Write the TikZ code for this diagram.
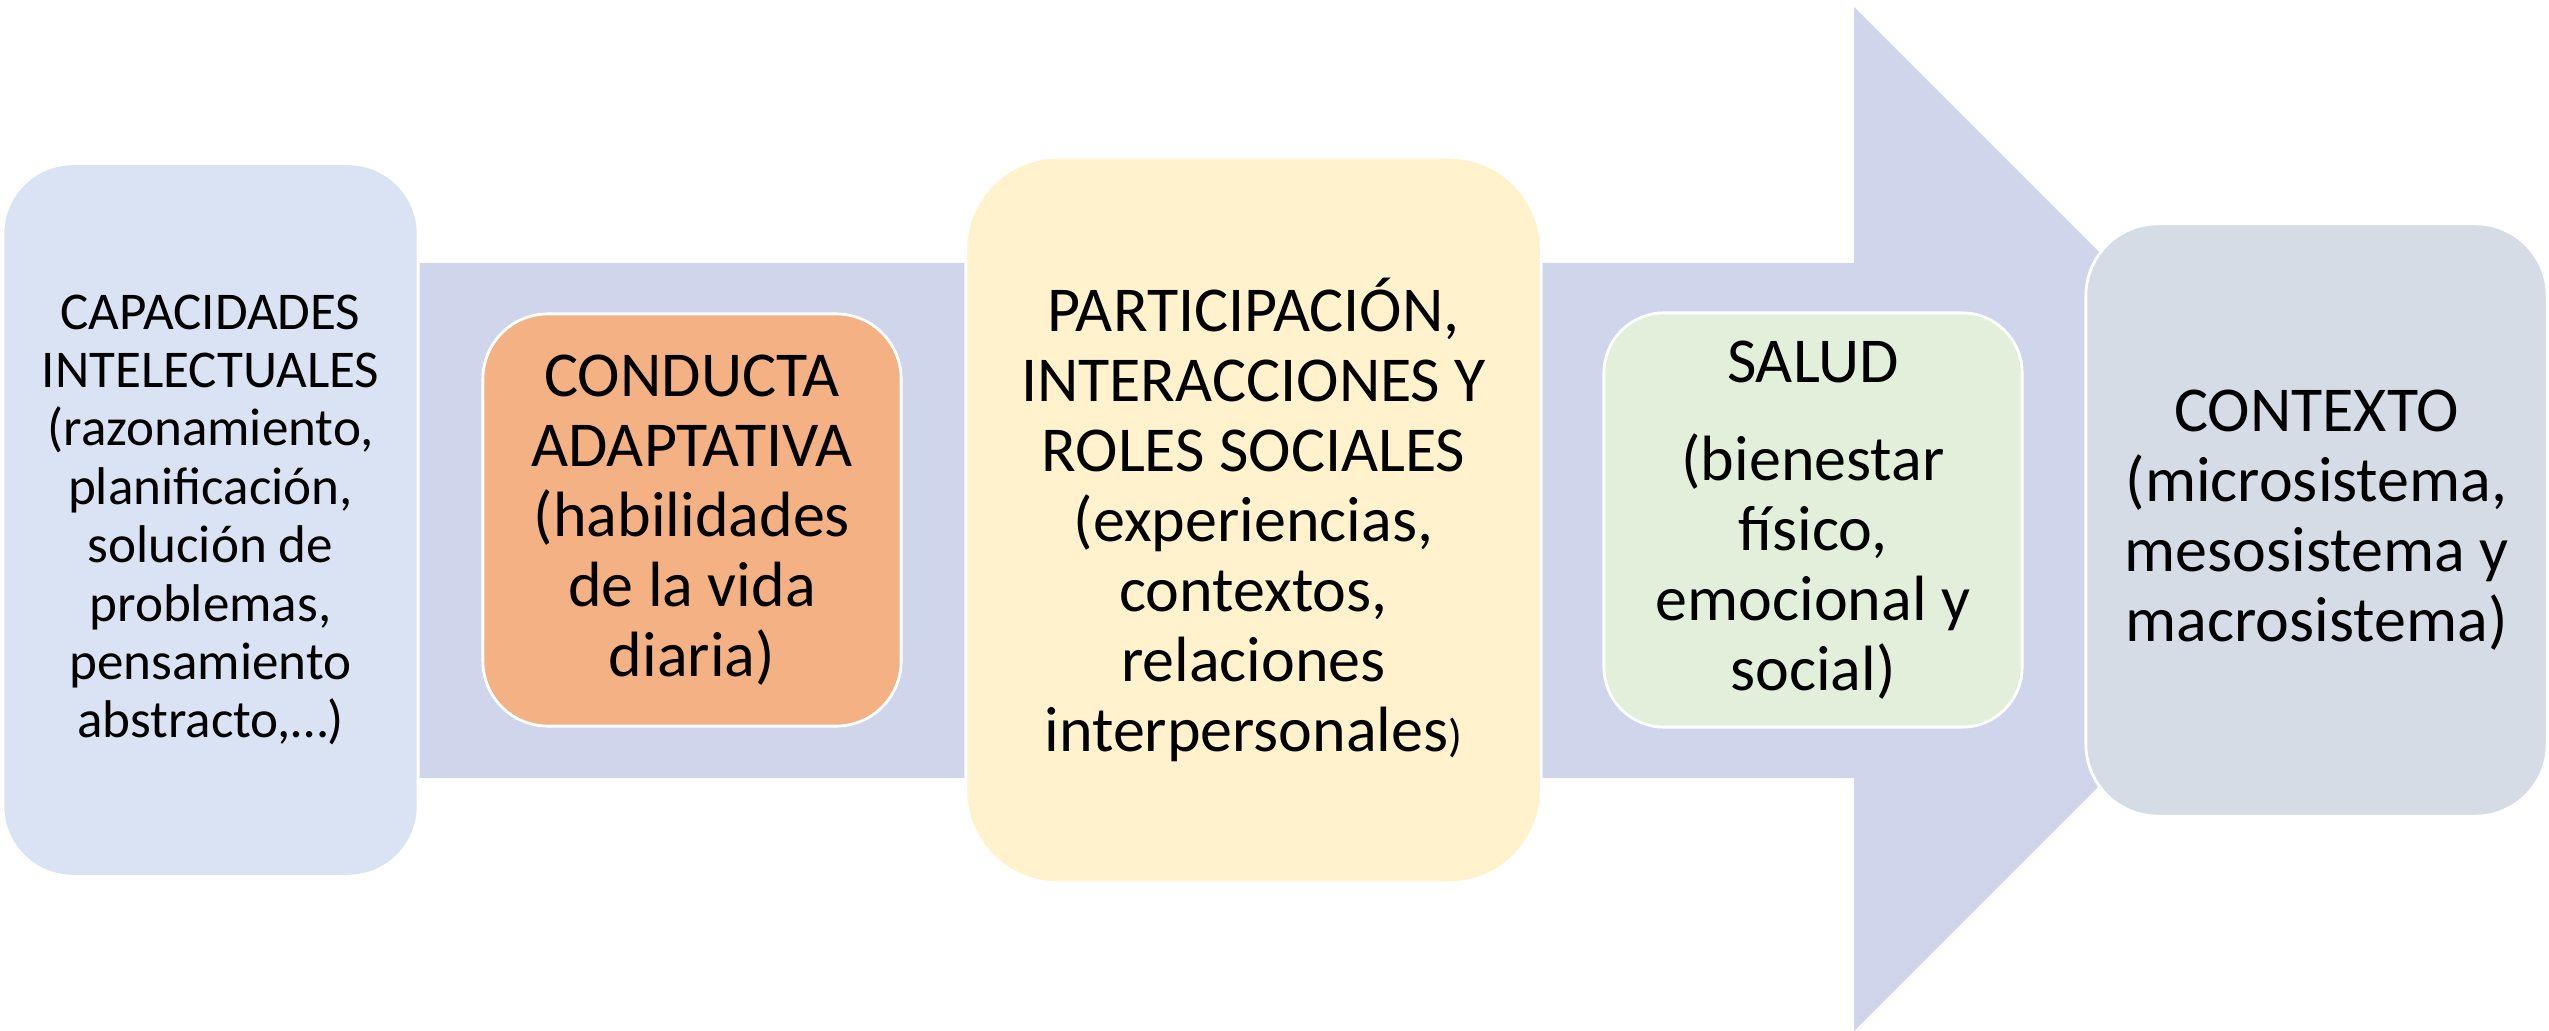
\documentclass[tikz,border=0pt]{standalone}
\usepackage{fontspec}
\setmainfont{Carlito}
\definecolor{arrowc}{HTML}{CFD5EA}
\definecolor{capc}{HTML}{DAE3F3}
\definecolor{condc}{HTML}{F4B183}
\definecolor{partc}{HTML}{FFF2CC}
\definecolor{saludc}{HTML}{E2EFDA}
\definecolor{contc}{HTML}{D6DCE5}
\begin{document}
\begin{tikzpicture}[x=0.01cm,y=-0.01cm,
  box/.style={draw=white, line width=0.8pt, align=center, inner sep=0pt, text=black},
  smalltxt/.style={font=\fontsize{15.1}{16.6}\selectfont},
  bigtxt/.style={font=\fontsize{18.2}{19.9}\selectfont}]
\useasboundingbox (0,0) rectangle (2549,1031);
\fill[arrowc] (300,263) -- (1854,263) -- (1854,7) -- (2366,519) -- (1854,1031) -- (1854,778) -- (300,778) -- cycle;
\node[box, smalltxt, fill=capc, minimum width=4.15cm, minimum height=7.12cm, rounded corners=0.7cm] (cap) at (210.5,520)
  {CAPACIDADES\\INTELECTUALES\\(razonamiento,\\planificación,\\solución de\\problemas,\\pensamiento\\abstracto,…)};
\node[box, bigtxt, fill=condc, minimum width=4.18cm, minimum height=4.12cm, rounded corners=0.65cm] (cond) at (692,520)
  {CONDUCTA\\ADAPTATIVA\\(habilidades\\de la vida\\diaria)};
\node[box, bigtxt, fill=partc, minimum width=5.75cm, minimum height=7.25cm, rounded corners=0.92cm] (part) at (1253.5,520)
  {PARTICIPACIÓN,\\INTERACCIONES Y\\ROLES SOCIALES\\(experiencias,\\contextos,\\relaciones\\interpersonales{\fontsize{13}{15}\selectfont)}};
\node[box, bigtxt, fill=saludc, minimum width=4.18cm, minimum height=4.14cm, rounded corners=0.6cm] (salud) at (1813,520)
  {SALUD\\[8pt](bienestar\\físico,\\emocional y\\social)};
\node[box, bigtxt, fill=contc, minimum width=4.61cm, minimum height=5.92cm, rounded corners=0.72cm] (cont) at (2316.5,520)
  {CONTEXTO\\(microsistema,\\mesosistema y\\macrosistema)};
\end{tikzpicture}
\end{document}
